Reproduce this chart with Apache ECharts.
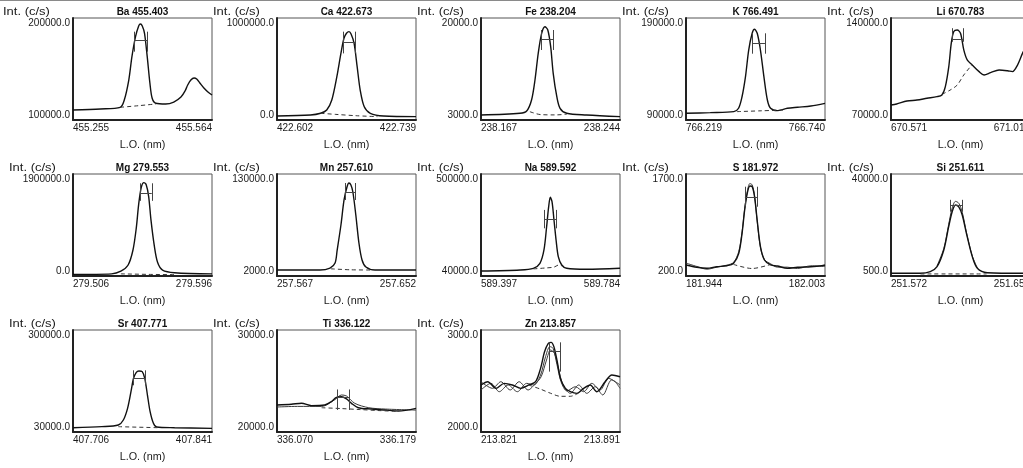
<!DOCTYPE html>
<html>
<head>
<meta charset="utf-8">
<script src="https://cdn.jsdelivr.net/npm/echarts@6/dist/echarts.min.js"></script>
<style>
  html, body { margin: 0; padding: 0; background: #fff; }
  #chart { width: 1023px; height: 468px; }
</style>
</head>
<body>
<div id="chart"></div>
<script>
// axis ranges: [x min, x max, y min, y max] (also the tick labels)
const baAxis = [455.255, 455.564, 100000, 200000]
const caAxis = [422.602, 422.739, 0, 1000000]
const feAxis = [238.167, 238.244, 3000, 20000]
const kAxis = [766.219, 766.740, 90000, 190000]
const liAxis = [670.571, 671.016, 70000, 140000]
const mgAxis = [279.506, 279.596, 0, 1900000]
const mnAxis = [257.567, 257.652, 2000, 130000]
const naAxis = [589.397, 589.784, 40000, 500000]
const sAxis = [181.944, 182.003, 200, 1700]
const siAxis = [251.572, 251.652, 500, 40000]
const srAxis = [407.706, 407.841, 30000, 300000]
const tiAxis = [336.070, 336.179, 20000, 30000]
const znAxis = [213.821, 213.891, 2000, 3000]

// spectra [wavelength, intensity]
const baSignal = [[455.255, 109800], [455.316, 110800], [455.360, 112450], [455.369, 119600], [455.379, 139200], [455.386, 162100], [455.394, 181700], [455.401, 192200], [455.405, 194100], [455.409, 192200], [455.414, 185000], [455.420, 162100], [455.426, 136000], [455.431, 121300], [455.439, 116400], [455.461, 115700], [455.479, 117600], [455.495, 122500], [455.504, 128400], [455.510, 134300], [455.517, 139200], [455.524, 141200], [455.530, 140200], [455.537, 136300], [455.546, 131400], [455.555, 127500], [455.564, 124500]]
const baBase = [[455.360, 112450], [455.400, 114000], [455.439, 115700]]
const caSignal = [[422.602, 39000], [422.635, 49000], [422.645, 66000], [422.651, 98000], [422.656, 196000], [422.661, 425000], [422.665, 653000], [422.668, 801000], [422.6705, 850000], [422.673, 866000], [422.675, 843000], [422.678, 752000], [422.681, 523000], [422.684, 294000], [422.688, 130000], [422.694, 66000], [422.707, 39000], [422.739, 33000]]
const caBase = [[422.645, 66000], [422.660, 55000], [422.680, 42000], [422.701, 33000]]
const feSignal = [[238.167, 3830], [238.1886, 4120], [238.1923, 4500], [238.195, 6330], [238.1969, 9670], [238.1987, 14120], [238.2006, 17450], [238.2024, 18550], [238.204, 18000], [238.2056, 15220], [238.207, 10780], [238.209, 6880], [238.2108, 4950], [238.2145, 4120], [238.2255, 3830], [238.244, 3560]]
const feBase = [[238.1941, 4380], [238.200, 3900], [238.208, 3850], [238.2145, 3950]]
const kSignal = [[766.219, 96600], [766.310, 97200], [766.398, 98200], [766.416, 101500], [766.429, 112800], [766.442, 132500], [766.454, 158600], [766.467, 175000], [766.476, 178900], [766.486, 175000], [766.498, 158600], [766.511, 132500], [766.524, 109600], [766.536, 101500], [766.561, 99200], [766.599, 101500], [766.637, 102500], [766.687, 103700], [766.740, 106300]]
const kBase = [[766.410, 98200], [766.500, 99000], [766.586, 99800]]
const liSignal = [[670.571, 80300], [670.589, 81000], [670.622, 83000], [670.654, 83700], [670.686, 84900], [670.718, 86000], [670.734, 87200], [670.745, 92900], [670.756, 106600], [670.764, 122700], [670.772, 130700], [670.783, 131800], [670.7935, 129500], [670.804, 118100], [670.815, 111200], [670.831, 107800], [670.853, 103200], [670.869, 100900], [670.890, 102500], [670.917, 104300], [670.944, 103800], [670.960, 103200], [670.976, 107700], [670.992, 115700], [671.003, 120300], [671.016, 127000]]
const liBase = [[670.734, 87600], [670.760, 90500], [670.783, 94000], [670.804, 100900], [670.830, 107800]]
const mgSignal = [[279.506, 30000], [279.531, 40000], [279.537, 90000], [279.5416, 200000], [279.5448, 480000], [279.547, 900000], [279.5485, 1330000], [279.5502, 1650000], [279.5519, 1740000], [279.5534, 1700000], [279.555, 1480000], [279.5565, 1040000], [279.5587, 550000], [279.5608, 250000], [279.564, 110000], [279.5717, 60000], [279.596, 40000]]
const mgBase = [[279.537, 40000], [279.555, 30000], [279.572, 25000]]
const mnSignal = [[257.567, 9500], [257.5933, 9500], [257.5994, 12000], [257.6025, 18300], [257.6038, 34600], [257.6061, 66000], [257.608, 97400], [257.6098, 113700], [257.611, 118700], [257.6122, 116200], [257.6134, 107400], [257.6152, 78500], [257.6171, 43400], [257.619, 22100], [257.6214, 13300], [257.6269, 9500], [257.652, 9500]]
const mnBase = [[257.600, 11000], [257.612, 9800], [257.625, 9500]]
const naSignal = [[589.397, 62500], [589.5057, 67000], [589.5427, 74700], [589.5611, 97300], [589.5723, 157300], [589.5797, 262300], [589.5854, 352500], [589.590, 395000], [589.5947, 375000], [589.6002, 292500], [589.606, 202400], [589.6122, 127000], [589.6218, 89600], [589.6354, 74700], [589.6911, 70200], [589.784, 74700]]
const naBase = [[589.543, 72000], [589.575, 76000], [589.600, 80000], [589.614, 90000], [589.622, 86000]]
const sSignal = [[181.944, 362], [181.9486, 328], [181.9529, 313], [181.9571, 337], [181.9614, 351], [181.9642, 387], [181.9664, 533], [181.9678, 828], [181.9689, 1171], [181.970, 1416], [181.9711, 1524], [181.9721, 1513], [181.9731, 1366], [181.9742, 1024], [181.9756, 631], [181.9773, 435], [181.9799, 362], [181.9828, 347], [181.987, 313], [181.9913, 328], [181.997, 337], [182.0016, 351], [182.003, 362]]
const sSignal2 = [[181.944, 390], [181.9486, 340], [181.9529, 300], [181.9571, 330], [181.9614, 360], [181.9642, 400], [181.9664, 560], [181.9678, 850], [181.9689, 1190], [181.970, 1440], [181.9711, 1560], [181.9721, 1540], [181.9731, 1380], [181.9742, 1010], [181.9756, 620], [181.9773, 440], [181.9799, 380], [181.9828, 330], [181.987, 330], [181.9913, 310], [181.997, 350], [182.003, 340]]
const sBase = [[181.9642, 370], [181.972, 310], [181.9799, 370]]
const siSignal = [[251.572, 1550], [251.5888, 1550], [251.5946, 2170], [251.5985, 4100], [251.6024, 10570], [251.6052, 19600], [251.6072, 25400], [251.6091, 28000], [251.611, 27300], [251.613, 24100], [251.6154, 17000], [251.6188, 8000], [251.6217, 3500], [251.6274, 1780], [251.6488, 1550], [251.652, 1550]]
const siSignal2 = [[251.5985, 4400], [251.6024, 11200], [251.6052, 20500], [251.6072, 26800], [251.6091, 29400], [251.611, 28700], [251.613, 25200], [251.6154, 17500], [251.6188, 8200], [251.6217, 3600]]
const siBase = [[251.589, 1300], [251.627, 1300]]
const srSignal = [[407.706, 41400], [407.734, 44100], [407.750, 48500], [407.7549, 61700], [407.759, 92700], [407.7623, 136800], [407.7648, 172200], [407.7675, 188000], [407.770, 191500], [407.7732, 189700], [407.7757, 172200], [407.7783, 127900], [407.7809, 83700], [407.7841, 53000], [407.7873, 43200], [407.8047, 41400], [407.841, 39700]]
const srBase = [[407.750, 44100], [407.788, 41400]]
const tiSignal = [[336.070, 22650], [336.0813, 22720], [336.0892, 22820], [336.097, 22590], [336.1074, 22650], [336.1126, 22980], [336.1166, 23400], [336.1206, 23460], [336.1245, 23240], [336.1284, 22810], [336.1337, 22380], [336.1442, 22250], [336.1547, 22150], [336.1652, 22060], [336.179, 22320]]
const tiSignal2 = [[336.070, 22450], [336.086, 22510], [336.105, 22510], [336.115, 23140], [336.1206, 23630], [336.1245, 23530], [336.131, 22810], [336.142, 22380], [336.155, 22250], [336.179, 22150]]
const tiBase = [[336.105, 22380], [336.120, 22300], [336.135, 22200], [336.150, 22100], [336.165, 22020]]
const znSignal = [[213.821, 2461], [213.8244, 2493], [213.8285, 2428], [213.8327, 2477], [213.8368, 2461], [213.841, 2428], [213.8451, 2461], [213.8485, 2493], [213.851, 2624], [213.853, 2787], [213.8549, 2869], [213.8563, 2879], [213.8577, 2837], [213.8594, 2690], [213.861, 2526], [213.8635, 2428], [213.866, 2395], [213.8693, 2379], [213.8727, 2428], [213.876, 2461], [213.8793, 2395], [213.8835, 2493], [213.8869, 2559], [213.891, 2542]]
const znSignal2 = [[213.821, 2412], [213.826, 2477], [213.8302, 2395], [213.8347, 2461], [213.8393, 2395], [213.844, 2477], [213.8477, 2461], [213.851, 2559], [213.8535, 2738], [213.8557, 2837], [213.8573, 2820], [213.8593, 2657], [213.8613, 2493], [213.8643, 2402], [213.8685, 2444], [213.8727, 2395], [213.8768, 2477], [213.881, 2412], [213.8852, 2526], [213.8885, 2493], [213.891, 2428]]
const znSignal3 = [[213.821, 2493], [213.8268, 2428], [213.831, 2493], [213.8357, 2412], [213.8402, 2493], [213.8447, 2412], [213.8485, 2477], [213.8513, 2542], [213.854, 2706], [213.856, 2804], [213.858, 2771], [213.860, 2624], [213.8623, 2461], [213.866, 2379], [213.8702, 2461], [213.8743, 2379], [213.8785, 2444], [213.8823, 2363], [213.8868, 2510], [213.891, 2461]]
const znBase = [[213.845, 2461], [213.851, 2420], [213.856, 2380], [213.861, 2350], [213.866, 2350], [213.870, 2380]]

// peak window markers: [left x, right x, top y, bottom y, bar y]
const baMarker = [455.392, 455.420, 186600, 167000, 177700]
const caMarker = [422.667, 422.6796, 866000, 653000, 758000]
const feMarker = [238.2006, 238.207, 18000, 14670, 16450]
const kMarker = [766.467, 766.515, 175000, 155000, 165200]
const liMarker = [670.767, 670.8026, 133000, 123700, 125400]
const mgMarker = [279.5495, 279.557, 1727000, 1400000, 1540000]
const mnMarker = [257.609, 257.615, 118700, 97400, 107400]
const naMarker = [589.5724, 589.606, 338000, 255000, 297000]
const sMarker = [181.969, 181.9742, 1513, 1219, 1357]
const siMarker = [251.6063, 251.613, 30000, 25400, 28000]
const srMarker = [407.7648, 407.7766, 193300, 153600, 172200]
const tiMarker = [336.1176, 336.127, 24170, 22160, 23400]
const znMarker = [213.8552, 213.861, 2879, 2592, 2787]

const panels = [
  { name: 'Ba 455.403', axis: baAxis, lines: [baSignal], base: baBase, marker: baMarker },
  { name: 'Ca 422.673', axis: caAxis, lines: [caSignal], base: caBase, marker: caMarker },
  { name: 'Fe 238.204', axis: feAxis, lines: [feSignal], base: feBase, marker: feMarker },
  { name: 'K 766.491', axis: kAxis, lines: [kSignal], base: kBase, marker: kMarker },
  { name: 'Li 670.783', axis: liAxis, lines: [liSignal], base: liBase, marker: liMarker },
  { name: 'Mg 279.553', axis: mgAxis, lines: [mgSignal], base: mgBase, marker: mgMarker },
  { name: 'Mn 257.610', axis: mnAxis, lines: [mnSignal], base: mnBase, marker: mnMarker },
  { name: 'Na 589.592', axis: naAxis, lines: [naSignal], base: naBase, marker: naMarker },
  { name: 'S 181.972', axis: sAxis, lines: [sSignal, sSignal2], base: sBase, marker: sMarker },
  { name: 'Si 251.611', axis: siAxis, lines: [siSignal, siSignal2], base: siBase, marker: siMarker },
  { name: 'Sr 407.771', axis: srAxis, lines: [srSignal], base: srBase, marker: srMarker },
  { name: 'Ti 336.122', axis: tiAxis, lines: [tiSignal, tiSignal2], base: tiBase, marker: tiMarker },
  { name: 'Zn 213.857', axis: znAxis, lines: [znSignal, znSignal2, znSignal3], base: znBase, marker: znMarker }
]

const font = 'Liberation Sans, Arial, Helvetica, sans-serif'
const cols = [73, 277, 481, 686, 891]
const rows = [18, 174, 330]
const boxW = 139
const boxH = 102

const grids = []
const xAxes = []
const yAxes = []
const series = []
const graphics = [
  { type: 'rect', shape: { x: 0, y: 0, width: 1023, height: 1 }, style: { fill: '#8a8a8a' } }
]

panels.forEach((p, i) => {
  const left = cols[i % 5]
  const top = rows[Math.floor(i / 5)]
  grids.push({
    left: left, top: top, width: boxW, height: boxH,
    outerBoundsMode: 'none', containLabel: false,
    show: true, borderColor: '#555', borderWidth: 1
  })
  xAxes.push({
    gridIndex: i, type: 'value', min: p.axis[0], max: p.axis[1],
    name: 'L.O. (nm)', nameLocation: 'middle', nameGap: 20,
    nameTextStyle: { fontSize: 10.8, fontFamily: font, color: '#1a1a1a' },
    axisLine: { lineStyle: { color: '#222', width: 2 } },
    axisTick: { show: false },
    splitLine: { show: false },
    axisLabel: {
      customValues: [p.axis[0], p.axis[1]], margin: 3,
      alignMinLabel: 'left', alignMaxLabel: 'right',
      fontSize: 10, fontFamily: font, color: '#1a1a1a',
      formatter: v => v.toFixed(3)
    }
  })
  yAxes.push({
    gridIndex: i, type: 'value', min: p.axis[2], max: p.axis[3],
    axisLine: { show: true, lineStyle: { color: '#222', width: 2 } },
    axisTick: { show: false },
    splitLine: { show: false },
    axisLabel: {
      customValues: [p.axis[2], p.axis[3]], margin: 3,
      verticalAlignMinLabel: 'bottom', verticalAlignMaxLabel: 'top',
      fontSize: 10, fontFamily: font, color: '#1a1a1a',
      formatter: v => v.toFixed(1)
    }
  })
  p.lines.forEach((d, k) => {
    series.push({
      type: 'line', xAxisIndex: i, yAxisIndex: i, data: d,
      symbol: 'none', smooth: 0.3, silent: true, z: 3 - k,
      lineStyle: { color: k ? '#3a3a3a' : '#111', width: k ? 1 : 1.4 }
    })
  })
  const m = p.marker
  series.push({
    type: 'line', xAxisIndex: i, yAxisIndex: i, data: p.base,
    symbol: 'none', smooth: 0.3, silent: true,
    lineStyle: { color: '#333', width: 1, type: [4, 3] },
    markLine: {
      silent: true, symbol: ['none', 'none'], label: { show: false },
      lineStyle: { color: '#444', width: 1, type: 'solid' },
      data: [
        [{ coord: [m[0], m[2]] }, { coord: [m[0], m[3]] }],
        [{ coord: [m[1], m[2]] }, { coord: [m[1], m[3]] }],
        [{ coord: [m[0], m[4]] }, { coord: [m[1], m[4]] }]
      ]
    }
  })
  graphics.push({
    type: 'text', x: left + boxW / 2, y: top - 6,
    style: { text: p.name, fontSize: 10, fontWeight: 'bold', fontFamily: font, fill: '#111', align: 'center', verticalAlign: 'middle' }
  })
  // the instrument font draws this label noticeably wider
  graphics.push({
    type: 'text', x: i === 0 ? 3 : left - 64, y: top - 6, scaleX: 1.3,
    style: { text: 'Int. (c/s)', fontSize: 10, fontFamily: font, fill: '#1a1a1a', align: 'left', verticalAlign: 'middle' }
  })
})

const chart = echarts.init(document.getElementById('chart'))
chart.setOption({
  animation: false,
  backgroundColor: '#fff',
  grid: grids,
  xAxis: xAxes,
  yAxis: yAxes,
  series: series,
  graphic: graphics
})
</script>
</body>
</html>
